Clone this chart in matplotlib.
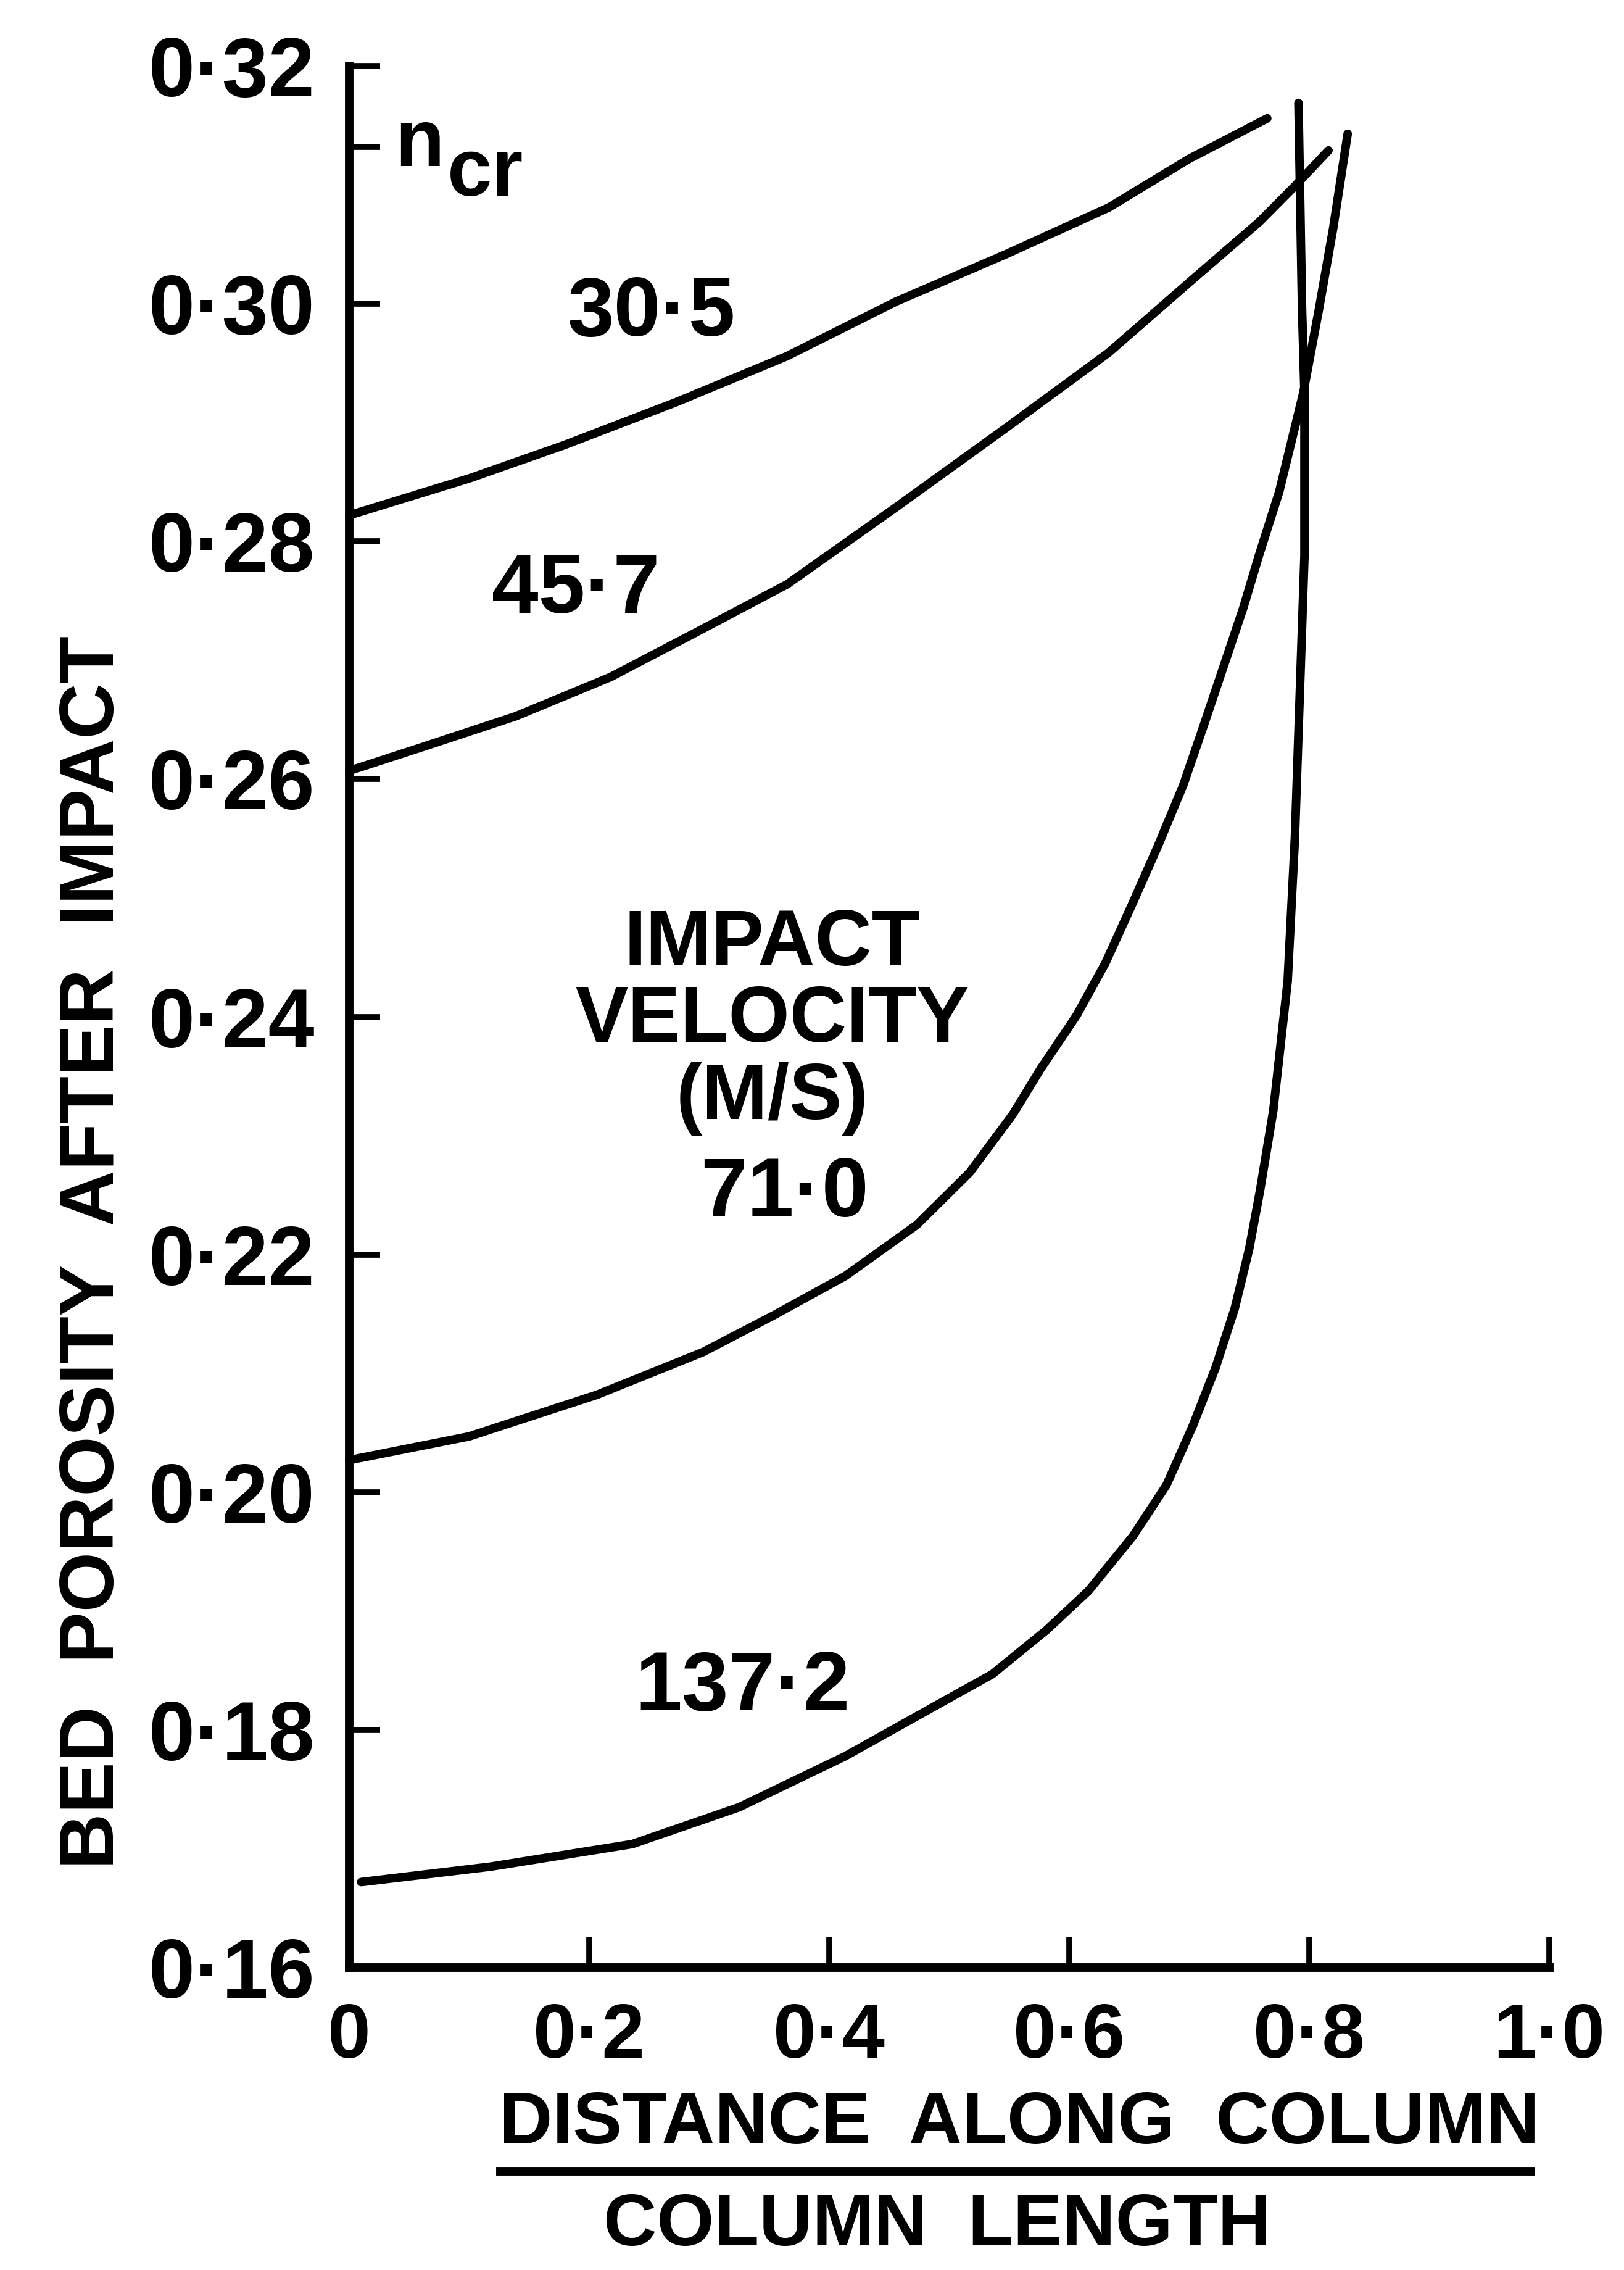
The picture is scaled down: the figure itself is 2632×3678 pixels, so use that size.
import matplotlib
matplotlib.use("Agg")
import matplotlib.pyplot as plt
from matplotlib.lines import Line2D

plt.rcParams["font.family"] = ["Liberation Sans", "DejaVu Sans"]
plt.rcParams["font.weight"] = "bold"

# bed porosity after impact vs distance along column / column length
dist_30_5 = [0.0, 0.10, 0.179, 0.272, 0.365, 0.456, 0.548, 0.633, 0.700, 0.765]
por_30_5 = [0.2822, 0.2853, 0.2881, 0.2917, 0.2956, 0.3002, 0.3042, 0.3081, 0.3122, 0.3156]

dist_45_7 = [0.0, 0.061, 0.139, 0.218, 0.290, 0.365, 0.456, 0.548, 0.633, 0.700, 0.7585, 0.788, 0.816]
por_45_7 = [0.2607, 0.2627, 0.2653, 0.2686, 0.2724, 0.2764, 0.2829, 0.2896, 0.2959, 0.3018, 0.3069, 0.3099, 0.3129]

dist_71_0 = [0.0, 0.10, 0.2065, 0.295, 0.354, 0.4135, 0.473, 0.517, 0.553, 0.576, 0.606, 0.630, 0.653, 0.674,
             0.695, 0.712, 0.730, 0.745, 0.758, 0.775, 0.795, 0.808, 0.820, 0.832]
por_71_0 = [0.2027, 0.2047, 0.2082, 0.2118, 0.2149, 0.2182, 0.2225, 0.2269, 0.2318, 0.2356, 0.2401, 0.2445, 0.2496,
            0.2544, 0.2595, 0.2645, 0.2699, 0.2744, 0.2788, 0.2842, 0.2925, 0.2995, 0.3064, 0.3143]

dist_137_2 = [0.01, 0.118, 0.236, 0.325, 0.4135, 0.488, 0.536, 0.581, 0.616, 0.653, 0.681, 0.703, 0.722, 0.738,
              0.750, 0.759, 0.770, 0.782, 0.788, 0.792, 0.796, 0.796, 0.794, 0.791]
por_137_2 = [0.1672, 0.1685, 0.1704, 0.1735, 0.1778, 0.1820, 0.1847, 0.1884, 0.1917, 0.1963, 0.2006, 0.2056, 0.2105,
             0.2155, 0.2205, 0.2254, 0.2321, 0.2430, 0.2550, 0.2669, 0.2788, 0.2925, 0.2995, 0.3169]

velocities = ["30·5", "45·7", "71·0", "137·2"]
curves = [(dist_30_5, por_30_5), (dist_45_7, por_45_7), (dist_71_0, por_71_0), (dist_137_2, por_137_2)]
label_xy = [(0.252, 0.2991), (0.189, 0.2758), (0.3625, 0.2250), (0.328, 0.1835)]

x_ticks = [0.0, 0.2, 0.4, 0.6, 0.8, 1.0]
x_ticklabels = ["0", "0·2", "0·4", "0·6", "0·8", "1·0"]
y_ticks = [0.16, 0.18, 0.20, 0.22, 0.24, 0.26, 0.28, 0.30, 0.32]
y_ticklabels = ["0·16", "0·18", "0·20", "0·22", "0·24", "0·26", "0·28", "0·30", "0·32"]
n_cr = 0.3132

fig = plt.figure(figsize=(26.32, 36.78), dpi=100)
ax = fig.add_axes([0.2150, 0.1332, 0.7390, 0.8377])

for (xs, ys) in curves:
    ax.plot(xs, ys, color="black", lw=10, solid_capstyle="round", solid_joinstyle="round", clip_on=False)

for txt, (lx, ly) in zip(velocities, label_xy):
    ax.text(lx, ly, txt, fontsize=98, ha="center", va="center")
ax.text(0.3523, 0.2396, "IMPACT\nVELOCITY\n(M/S)", fontsize=92, ha="center", va="center", linespacing=1.05)

# critical porosity marker on the y axis
ax.set_yticks([n_cr], minor=True)
ax.text(0.038, 0.3116, "n", fontsize=94, ha="left", va="baseline")
ax.text(0.082, 0.3091, "cr", fontsize=94, ha="left", va="baseline")

ax.set_xlim(0, 1.0)
ax.set_ylim(0.16, 0.32)
ax.set_xticks(x_ticks)
ax.set_xticklabels(x_ticklabels, fontsize=90)
ax.set_yticks(y_ticks)
ax.set_yticklabels(y_ticklabels, fontsize=97)
ax.tick_params(which="both", direction="in", length=36, width=7)
ax.tick_params(axis="y", pad=40)
ax.tick_params(axis="x", pad=40)
for side in ("top", "right"):
    ax.spines[side].set_visible(False)
for side in ("left", "bottom"):
    ax.spines[side].set_linewidth(10)
    ax.spines[side].set_capstyle("projecting")

fig.text(0.0578, 0.4483, "BED  POROSITY  AFTER  IMPACT", rotation=90, fontsize=90, ha="center", va="center")
fig.text(0.6277, 0.0639, "DISTANCE  ALONG  COLUMN", fontsize=86, ha="center", va="center")
fig.add_artist(Line2D([0.3081, 0.9426], [0.0435, 0.0435], color="black", lw=10, transform=fig.transFigure))
fig.text(0.5771, 0.0193, "COLUMN  LENGTH", fontsize=86, ha="center", va="center")

fig.savefig("out.png", dpi=100, facecolor="white")
